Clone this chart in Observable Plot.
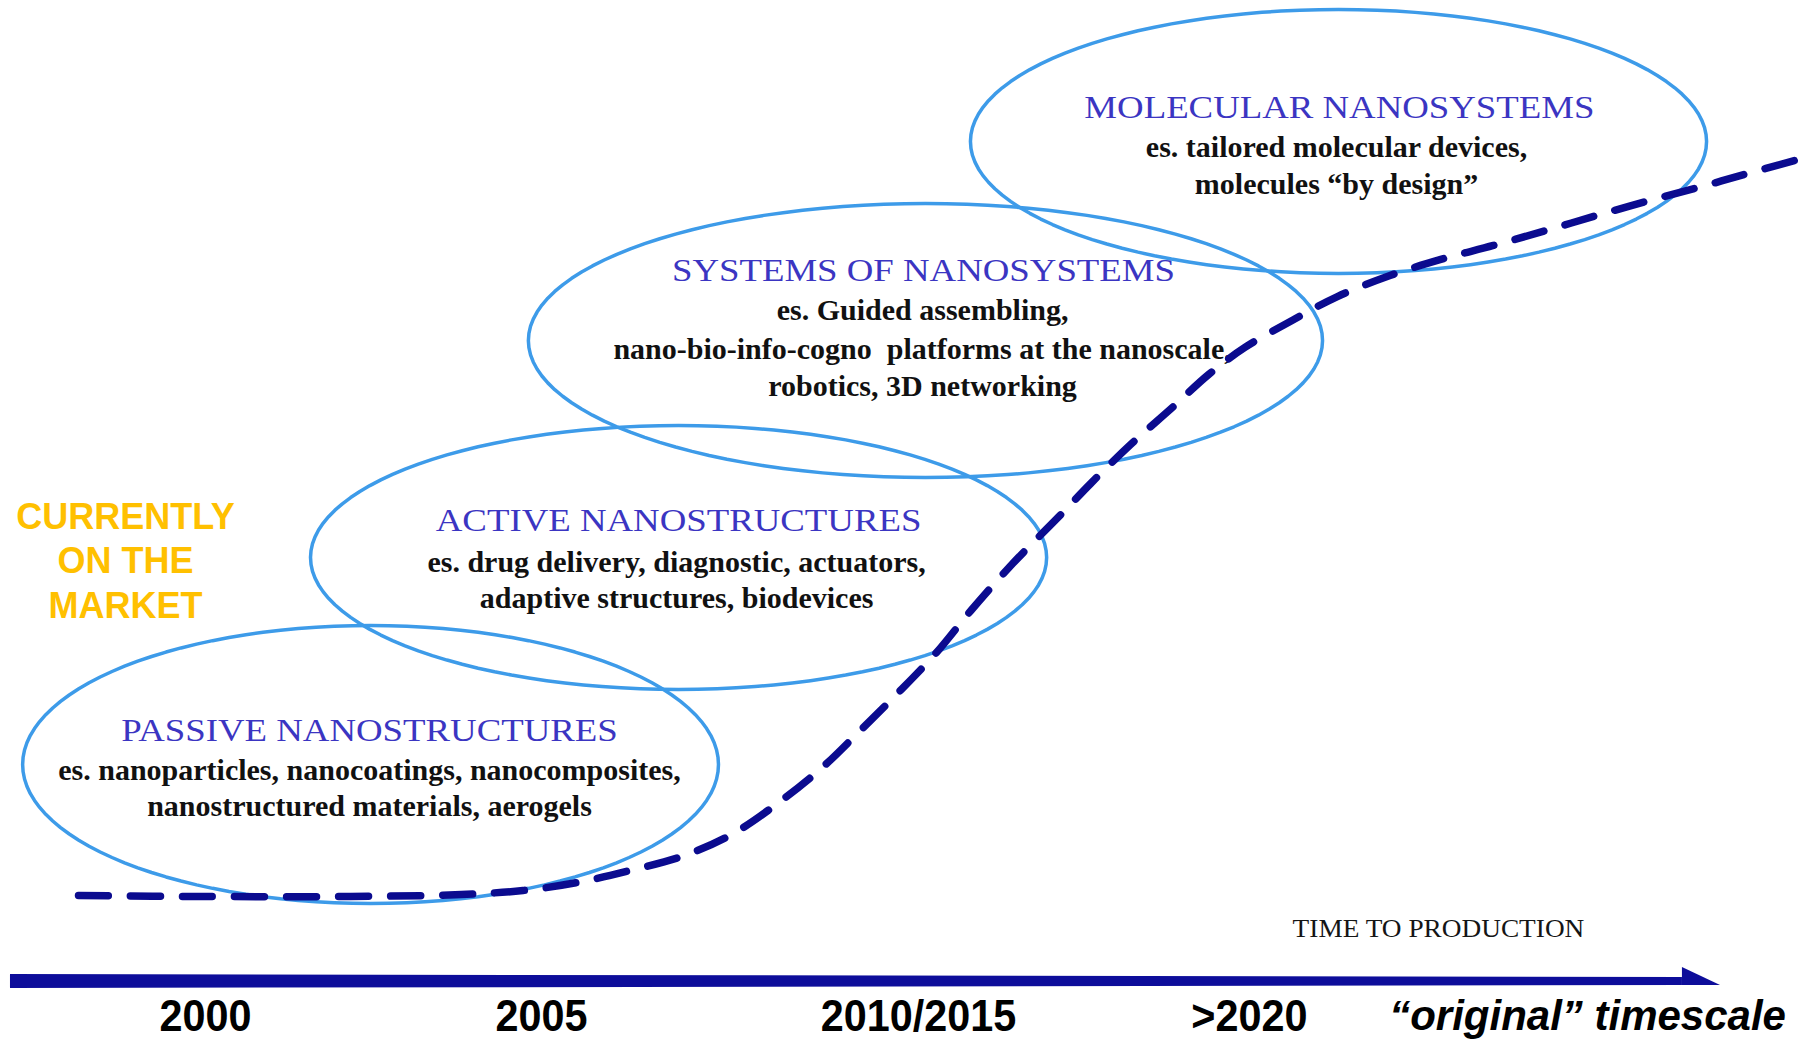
<!DOCTYPE html>
<html>
<head>
<meta charset="utf-8">
<script src="https://cdn.jsdelivr.net/npm/d3@7"></script>
<script src="https://cdn.jsdelivr.net/npm/@observablehq/plot@0.6"></script>
<style>
  html, body { margin: 0; padding: 0; background: #ffffff; }
  #chart svg { display: block; }
</style>
</head>
<body>
<div id="chart"></div>
<script>
// ---- Data (abstract units: x = time 0..100, y = maturity 0..100) ----
const stageNames = ["PASSIVE NANOSTRUCTURES", "ACTIVE NANOSTRUCTURES", "SYSTEMS OF NANOSYSTEMS", "MOLECULAR NANOSYSTEMS"];
const stageCx = [20.40, 37.38, 50.99, 73.76];
const stageCy = [26.89, 46.70, 67.46, 86.51];
const stageRx = [19.18, 20.29, 21.89, 20.29];
const stageRy = [13.30, 12.63, 13.11, 12.63];
const stageTitleX = [20.34, 37.38, 50.88, 73.81];
const stageTitleY = [30.14, 50.24, 74.16, 89.76];
const stageTextX = [20.34, 37.27, 50.83, 73.65];
const stageExamples = [
  ["es. nanoparticles, nanocoatings, nanocomposites,", "nanostructured materials, aerogels"],
  ["es. drug delivery, diagnostic, actuators,", "adaptive structures, biodevices"],
  ["es. Guided assembling,", "nano-bio-info-cogno  platforms at the nanoscale,", "robotics, 3D networking"],
  ["es. tailored molecular devices,", "molecules \u201cby design\u201d"]
];
const stageExampleY = [
  [26.32, 22.87],
  [46.22, 42.78],
  [70.33, 66.60, 63.06],
  [85.93, 82.39]
];

// Development trend (dashed curve)
const trendX = [4.3, 11.0, 19.3, 25.4, 28.8, 31.8, 34.7, 37.7, 40.4, 42.9, 45.3, 47.4, 49.5, 51.6, 53.5, 55.8, 58.3, 60.1, 62.3, 64.6, 66.6, 68.6, 71.2, 73.7, 76.6, 79.4, 82.3, 85.2, 88.0, 90.9, 93.8, 96.5, 100.0];
const trendY = [14.35, 14.26, 14.26, 14.45, 14.83, 15.60, 16.75, 18.18, 20.29, 23.25, 26.60, 30.14, 33.78, 37.61, 41.63, 46.12, 50.53, 53.78, 57.51, 61.05, 64.21, 66.80, 69.38, 71.67, 73.68, 75.22, 76.56, 77.99, 79.43, 80.86, 82.20, 83.54, 85.20];

// Time axis
const tickLabels = ["2000", "2005", "2010/2015", ">2020", "\u201coriginal\u201d timescale"];
const tickX = [11.30, 29.82, 50.61, 68.85, 87.49];
const tickY = 2.78;
const axisStartX = 0.55, axisEndX = 92.72, axisTipX = 94.82;
const axisBarTop = [6.79, 6.51], axisBarBottom = [5.45, 5.74];
const axisHeadTop = 7.46;
const axisTitle = "TIME TO PRODUCTION";
const axisTitleX = 79.27, axisTitleY = 11.20;

// Side note
const noteLines = ["CURRENTLY", "ON THE", "MARKET"];
const noteX = 6.89;
const noteY = [50.53, 46.32, 42.01];

// ---- Build tables ----
const ellipsePts = [];
stageNames.forEach((name, i) => {
  const n = 120;
  for (let k = 0; k < n; k++) {
    const t = 2 * Math.PI * k / n;
    ellipsePts.push({name, x: stageCx[i] + stageRx[i] * Math.cos(t), y: stageCy[i] + stageRy[i] * Math.sin(t)});
  }
});
const titles = stageNames.map((label, i) => ({label, x: stageTitleX[i], y: stageTitleY[i]}));
const examples = stageExamples.flatMap((lines, i) => lines.map((label, j) => ({label, x: stageTextX[i], y: stageExampleY[i][j]})));
const trend = trendX.map((x, i) => ({x, y: trendY[i]}));
const ticks = tickLabels.map((label, i) => ({label, x: tickX[i], y: tickY, italic: i === tickLabels.length - 1}));
const bar = [
  {x: axisStartX, y1: axisBarBottom[0], y2: axisBarTop[0]},
  {x: axisEndX, y1: axisBarBottom[1], y2: axisBarTop[1]}
];
const head = [
  {x: axisEndX, y1: axisBarBottom[1], y2: axisHeadTop},
  {x: axisTipX, y1: axisBarBottom[1], y2: axisBarBottom[1]}
];
const notes = noteLines.map((label, i) => ({label, x: noteX, y: noteY[i]}));

const W = 1814, H = 1045;
const serif = "'Liberation Serif', 'Times New Roman', Times, serif";
const sans = "'Liberation Sans', Arial, Helvetica, sans-serif";

const svg = Plot.plot({
  width: W,
  height: H,
  margin: 0,
  x: {domain: [0, 100], range: [0, W], axis: null},
  y: {domain: [0, 100], range: [H, 0], axis: null},
  style: {background: "#ffffff"},
  marks: [
    Plot.line(ellipsePts, {x: "x", y: "y", z: "name", curve: "linear-closed", stroke: "#3d9be9", strokeWidth: 3.5}),
    Plot.text(titles, {x: "x", y: "y", text: "label", fontFamily: serif, fontSize: 32, fill: "#3b35c2"}),
    Plot.text(examples, {x: "x", y: "y", text: "label", fontFamily: serif, fontSize: 30, fontWeight: "bold", fill: "#111111"}),
    Plot.line(trend, {x: "x", y: "y", curve: "catmull-rom", stroke: "#0b0b8f", strokeWidth: 7.5, strokeDasharray: "30,22"}),
    Plot.areaY(bar, {x: "x", y1: "y1", y2: "y2", fill: "#0d0d9a"}),
    Plot.areaY(head, {x: "x", y1: "y1", y2: "y2", fill: "#0d0d9a"}),
    Plot.text([{label: axisTitle, x: axisTitleX, y: axisTitleY}], {x: "x", y: "y", text: "label", fontFamily: serif, fontSize: 26, fill: "#151515"}),
    Plot.text(ticks.filter(d => !d.italic), {x: "x", y: "y", text: "label", fontFamily: sans, fontSize: 44, fontWeight: "bold", fill: "#000000"}),
    Plot.text(ticks.filter(d => d.italic), {x: "x", y: "y", text: "label", fontFamily: sans, fontSize: 42, fontWeight: "bold", fontStyle: "italic", fill: "#000000"}),
    Plot.text(notes, {x: "x", y: "y", text: "label", fontFamily: sans, fontSize: 36, fontWeight: "bold", fill: "#ffc000"})
  ]
});
document.getElementById("chart").appendChild(svg);

// Horizontal stretch/compression of glyphs to mimic the original typefaces
function stretch(match, factor) {
  d3.select(svg).selectAll("text")
    .filter(function() { return match(this.textContent); })
    .each(function() {
      const len = this.getComputedTextLength();
      this.setAttribute("textLength", (len * factor).toFixed(1));
      this.setAttribute("lengthAdjust", "spacingAndGlyphs");
    });
}
stretch(t => stageNames.includes(t), 1.15);
stretch(t => tickLabels.slice(0, 4).includes(t), 0.94);
stretch(t => t === axisTitle, 1.05);
</script>
</body>
</html>
